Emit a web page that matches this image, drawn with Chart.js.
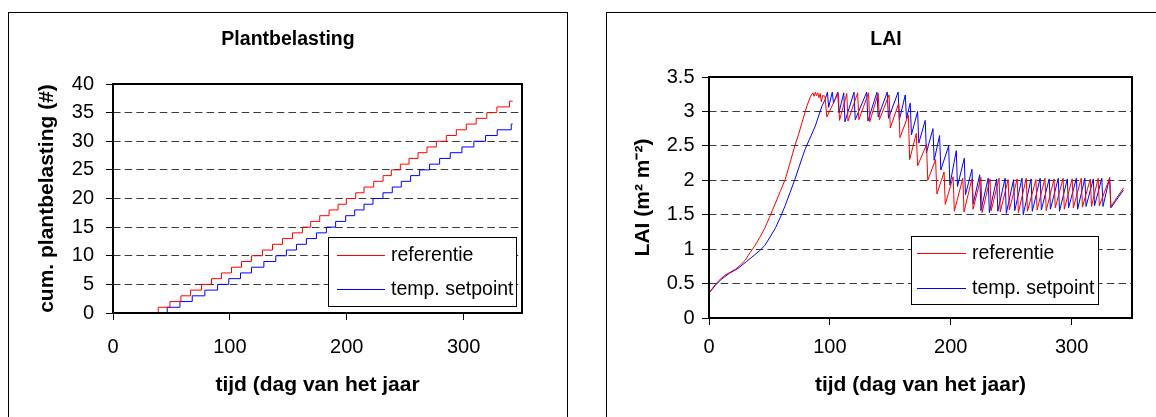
<!DOCTYPE html>
<html lang="nl">
<head>
<meta charset="UTF-8" />
<title>Plantbelasting en LAI</title>
<style>
  html, body { margin: 0; padding: 0; background: #fff; overflow: hidden; width: 1156px; height: 417px; }
  .box { position: absolute; top: 12px; width: 558px; height: 420px; border: 1px solid #000; }
  #box1 { left: 8px; }
  #box2 { left: 606px; }
  canvas { display: block; }
</style>
</head>
<body>
<div class="box" id="box1"><canvas id="plantChart" width="558" height="404"></canvas></div>
<div class="box" id="box2"><canvas id="laiChart" width="558" height="404"></canvas></div>

<script src="https://cdn.jsdelivr.net/npm/chart.js"></script>
<script>
  // cumulatieve plantbelasting: dag waarop de teller omhoog gaat
  const refStepDays = [0, 38.7, 48.7, 58.1, 66.4, 75.8, 84.3, 92.9, 101.4, 110, 118.5, 127.9, 136.5, 145, 153.6,
    162.1, 169.2, 176.9, 184.9, 192.6, 199.7, 207.7, 214.8, 223.1, 231.1, 238.2, 245.9, 253.3, 261, 268.7,
    276.7, 285.2, 293.8, 302.3, 310.8, 319.9, 328.5, 339.3, 342];
  const refStepCount = [0, 1, 2, 3, 4, 5, 6, 7, 8, 9, 10, 11, 12, 13, 14, 15, 16, 17, 18, 19, 20, 21, 22, 23, 24,
    25, 26, 27, 28, 29, 30, 31, 32, 33, 34, 35, 36, 37, 37];
  const tempStepDays = [0, 46.4, 57.3, 67.8, 78.6, 89.5, 99.1, 109.1, 118.5, 129.1, 139.3, 148.4, 157, 165.5,
    174.1, 182.6, 190.5, 199.1, 206.8, 214.8, 222.5, 231, 239, 246.7, 254.7, 262.4, 270.9, 279.5, 288.6,
    298.6, 308.8, 318.8, 328.8, 340.8, 342];
  const tempStepCount = [0, 1, 2, 3, 4, 5, 6, 7, 8, 9, 10, 11, 12, 13, 14, 15, 16, 17, 18, 19, 20, 21, 22, 23,
    24, 25, 26, 27, 28, 29, 30, 31, 32, 33, 33];

  // LAI (m2 m-2)
  const laiRefDays = [0, 4, 8, 13, 18, 22, 26, 30, 34, 38, 42, 46, 50, 55, 59, 63, 67, 71, 74, 77, 81, 84, 86, 87,
    88, 89, 90, 91, 92, 93, 94, 96, 97.5, 107, 108, 114, 115, 123, 124, 132, 133, 140, 141, 149, 150, 157, 158,
    165, 166, 171.5, 172.6, 180, 181, 187.5, 188.6, 194.5, 195.5, 202, 203, 210, 211, 217.5, 218.5, 225, 226,
    232.5, 233.5, 240, 241, 247.5, 248.5, 255, 256, 262.5, 263.5, 270.5, 271.5, 278, 279, 285.5, 286.5, 293,
    294, 300.5, 301.5, 308, 309, 315.5, 316.5, 322, 323, 331.5, 332.5, 343];
  const laiRefValues = [0.36, 0.46, 0.54, 0.62, 0.67, 0.71, 0.77, 0.84, 0.95, 1.05, 1.17, 1.30, 1.46, 1.67, 1.84,
    2.01, 2.25, 2.50, 2.66, 2.84, 3.08, 3.22, 3.27, 3.22, 3.28, 3.23, 3.27, 3.20, 3.26, 3.14, 3.23, 3.22, 2.92,
    3.27, 2.87, 3.26, 2.86, 3.27, 2.88, 3.27, 2.85, 3.26, 2.88, 3.24, 2.76, 3.12, 2.62, 2.95, 2.30, 2.68, 2.21,
    2.52, 2.00, 2.30, 1.80, 2.12, 1.65, 2.05, 1.55, 2.03, 1.54, 2.02, 1.58, 2.04, 1.53, 2.02, 1.56, 2.03, 1.54,
    2.01, 1.57, 2.02, 1.53, 2.03, 1.55, 2.01, 1.57, 2.03, 1.56, 2.02, 1.60, 2.03, 1.58, 2.02, 1.60, 2.03, 1.61,
    2.02, 1.62, 2.03, 1.63, 2.03, 1.62, 1.89];
  const laiTempDays = [0, 5, 10, 17, 24, 31, 38, 42, 46, 50, 55, 59, 63, 67, 71, 75, 79.5, 84, 88, 91, 93.5, 96,
    98, 99, 102, 103, 106.5, 107.5, 111.5, 112.5, 120, 121, 130.5, 131.5, 139, 140, 147.5, 148.5, 156.5, 157.5,
    162.4, 163.4, 166.5, 167.5, 172.6, 173.6, 178.9, 179.9, 185.3, 186.3, 190.8, 191.8, 198.3, 199.3, 204.6,
    205.6, 211.2, 212.2, 217.6, 218.6, 224, 225, 231, 232, 238, 239, 245, 246, 252, 253, 259, 260, 266.5,
    267.5, 274, 275, 281.5, 282.5, 289, 290, 296.5, 297.5, 304, 305, 311, 312, 318, 319, 325, 326, 331.5,
    332.5, 343];
  const laiTempValues = [0.36, 0.47, 0.56, 0.65, 0.72, 0.82, 0.92, 0.98, 1.05, 1.16, 1.31, 1.46, 1.63, 1.82, 2.01,
    2.22, 2.45, 2.63, 2.79, 2.95, 3.08, 3.17, 3.28, 3.06, 3.28, 3.12, 3.28, 2.98, 3.27, 2.85, 3.28, 2.88, 3.28,
    2.86, 3.28, 2.92, 3.28, 2.90, 3.28, 2.88, 3.24, 2.90, 3.12, 2.66, 3.00, 2.54, 2.87, 2.40, 2.75, 2.29, 2.65,
    2.15, 2.50, 1.93, 2.43, 1.91, 2.32, 1.79, 2.16, 1.66, 2.08, 1.56, 2.03, 1.53, 2.02, 1.55, 2.03, 1.52, 2.01,
    1.56, 2.03, 1.50, 2.02, 1.55, 2.03, 1.57, 2.02, 1.58, 2.03, 1.55, 2.02, 1.60, 2.03, 1.58, 2.03, 1.62, 2.02,
    1.63, 2.03, 1.62, 2.04, 1.60, 1.86];

  const FONT = '"Liberation Sans", Arial, sans-serif';
  Chart.defaults.font.family = FONT;
  Chart.defaults.color = '#000';

  const toPoints = (xs, ys) => xs.map((x, i) => ({ x: x, y: ys[i] }));

  // kader rond plotgebied, titel en legenda in een wit kader
  const framePlugin = {
    id: 'frame',
    afterDatasetsDraw(chart) {
      const { ctx, chartArea: a } = chart;
      ctx.save();
      ctx.strokeStyle = '#000';
      ctx.lineWidth = 2;
      ctx.strokeRect(a.left, a.top, a.right - a.left, a.bottom - a.top);
      ctx.restore();
    },
    afterDraw(chart, args, opts) {
      const ctx = chart.ctx;
      ctx.save();
      ctx.fillStyle = '#000';
      ctx.font = 'bold 19.5px ' + FONT;
      ctx.textAlign = 'center';
      ctx.textBaseline = 'alphabetic';
      ctx.fillText(opts.title, chart.width / 2, 32);

      const b = opts.box;
      ctx.fillStyle = '#fff';
      ctx.fillRect(b[0], b[1], b[2] - b[0], b[3] - b[1]);
      ctx.strokeStyle = '#000';
      ctx.lineWidth = 1;
      ctx.strokeRect(b[0] + 0.5, b[1] + 0.5, b[2] - b[0], b[3] - b[1]);

      ctx.font = '19.5px ' + FONT;
      ctx.textAlign = 'left';
      chart.data.datasets.forEach((ds, i) => {
        const y = opts.rows[i];
        ctx.strokeStyle = ds.borderColor;
        ctx.beginPath();
        ctx.moveTo(opts.line[0], y + 0.5);
        ctx.lineTo(opts.line[1], y + 0.5);
        ctx.stroke();
        ctx.fillStyle = '#000';
        ctx.fillText(ds.label, opts.textX, y + 6);
      });
      ctx.restore();
    }
  };

  function makeOptions(c) {
    return {
      responsive: false,
      animation: false,
      layout: { padding: { top: c.top, right: c.right, left: 0, bottom: 0 } },
      plugins: {
        legend: { display: false },
        tooltip: { enabled: false },
        frame: c.frame
      },
      scales: {
        x: {
          type: 'linear', min: 0, max: 350,
          afterFit: s => { s.height = c.xHeight; },
          border: { display: false },
          grid: { drawOnChartArea: false, drawTicks: true, tickLength: 7, tickColor: '#000' },
          ticks: { stepSize: 100, includeBounds: false, maxRotation: 0, padding: c.xPad, font: { size: 20 } },
          title: { display: true, text: c.xTitle, font: { size: 21, weight: 'bold' }, padding: { top: 0, bottom: 19.4 } }
        },
        y: {
          min: 0, max: c.yMax,
          afterFit: s => { s.width = c.yWidth; },
          border: { display: false, dash: [7.5, 4.2] },
          grid: { color: '#3a3a3a', lineWidth: 1, tickLength: 7, tickColor: '#000', tickBorderDash: [] },
          ticks: { stepSize: c.yStep, padding: c.yPad, font: { size: 20 }, callback: v => String(v) },
          title: { display: true, text: c.yTitle, font: { size: 21, weight: 'bold' }, padding: { top: c.yTitlePad, bottom: 0 } }
        }
      }
    };
  }

  new Chart(document.getElementById('plantChart'), {
    type: 'line',
    data: {
      datasets: [
        { label: 'referentie', data: toPoints(refStepDays, refStepCount), borderColor: '#ff0000',
          borderWidth: 1, pointRadius: 0, stepped: true, fill: false },
        { label: 'temp. setpoint', data: toPoints(tempStepDays, tempStepCount), borderColor: '#0000ff',
          borderWidth: 1, pointRadius: 0, stepped: true, fill: false }
      ]
    },
    options: makeOptions({
      top: 71, right: 45, xHeight: 104, yWidth: 104, xPad: 15, yPad: 12, yTitlePad: 25.4,
      yMax: 40, yStep: 5,
      xTitle: 'tijd (dag van het jaar', yTitle: 'cum. plantbelasting (#)',
      frame: { title: 'Plantbelasting', box: [319, 224, 507, 293], line: [328, 376], rows: [242, 276], textX: 382 }
    }),
    plugins: [framePlugin]
  });

  new Chart(document.getElementById('laiChart'), {
    type: 'line',
    data: {
      datasets: [
        { label: 'referentie', data: toPoints(laiRefDays, laiRefValues), borderColor: '#ff0000',
          borderWidth: 1, pointRadius: 0, tension: 0, fill: false },
        { label: 'temp. setpoint', data: toPoints(laiTempDays, laiTempValues), borderColor: '#0000ff',
          borderWidth: 1, pointRadius: 0, tension: 0, fill: false }
      ]
    },
    options: makeOptions({
      top: 64, right: 33, xHeight: 99, yWidth: 102, xPad: 10, yPad: 7.5, yTitlePad: 23.4,
      yMax: 3.5, yStep: 0.5,
      xTitle: 'tijd (dag van het jaar)', yTitle: 'LAI (m² m⁻²)',
      frame: { title: 'LAI', box: [304, 223, 491, 291], line: [310, 359], rows: [240, 275], textX: 365 }
    }),
    plugins: [framePlugin]
  });
</script>
</body>
</html>
